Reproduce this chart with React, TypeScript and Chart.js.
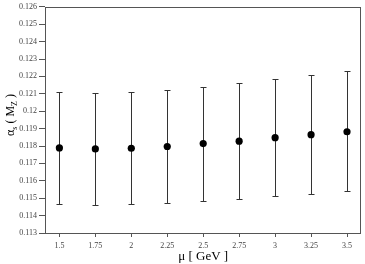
import React, { useEffect, useRef } from "react";
import { Chart, registerables } from "chart.js";
Chart.register(...registerables);

const mu = [1.5, 1.75, 2, 2.25, 2.5, 2.75, 3, 3.25, 3.5];
const alphaS = [0.11789, 0.11783, 0.11787, 0.11797, 0.11814, 0.11828, 0.11848, 0.11865, 0.11882];
const upper = [0.1211, 0.12105, 0.1211, 0.1212, 0.1214, 0.12164, 0.12186, 0.12209, 0.1223];
const lower = [0.11467, 0.11463, 0.11466, 0.11474, 0.11484, 0.11495, 0.1151, 0.11526, 0.11541];
const xTicks = [1.5, 1.75, 2, 2.25, 2.5, 2.75, 3, 3.25, 3.5];
const yTicks = [0.113, 0.114, 0.115, 0.116, 0.117, 0.118, 0.119, 0.12, 0.121, 0.122, 0.123, 0.124, 0.125, 0.126];

const SERIF = "'Liberation Serif', 'Times New Roman', serif";

const errorBars = {
  id: "errorBars",
  beforeDatasetsDraw(chart: any) {
    const { ctx, scales } = chart;
    const xs = scales.x, ys = scales.y;
    ctx.save();
    ctx.strokeStyle = "#333";
    ctx.lineWidth = 1;
    for (let i = 0; i < mu.length; i++) {
      const x = Math.round(xs.getPixelForValue(mu[i])) + 0.5;
      const yt = Math.round(ys.getPixelForValue(upper[i])) + 0.5;
      const yb = Math.round(ys.getPixelForValue(lower[i])) + 0.5;
      ctx.beginPath();
      ctx.moveTo(x, yt); ctx.lineTo(x, yb);
      ctx.moveTo(x - 3, yt); ctx.lineTo(x + 3, yt);
      ctx.moveTo(x - 3, yb); ctx.lineTo(x + 3, yb);
      ctx.stroke();
    }
    ctx.restore();
  },
};

const frame = {
  id: "frame",
  afterDraw(chart: any) {
    const { ctx, chartArea: a } = chart;
    ctx.save();
    ctx.strokeStyle = "#555";
    ctx.lineWidth = 1;
    ctx.strokeRect(Math.round(a.left) + 0.5, Math.round(a.top) + 0.5, Math.round(a.right - a.left) - 1, Math.round(a.bottom - a.top));
    const parts: [string, number, number][] = [
      ["\u03b1", 12, 0], ["s", 8, 3], [" ( M", 12, 0], ["Z", 8, 3], [" )", 12, 0],
    ];
    let total = 0;
    for (const [t, s] of parts) { ctx.font = `${s}px ${SERIF}`; total += ctx.measureText(t).width; }
    ctx.translate(14, 115);
    ctx.rotate(-Math.PI / 2);
    ctx.fillStyle = "#000";
    ctx.textBaseline = "alphabetic";
    let x = -total / 2;
    for (const [t, s, dy] of parts) {
      ctx.font = `${s}px ${SERIF}`;
      ctx.fillText(t, x, dy);
      x += ctx.measureText(t).width;
    }
    ctx.restore();
  },
};

export default function App() {
  const ref = useRef<HTMLCanvasElement>(null);
  useEffect(() => {
    const chart = new Chart(ref.current!, {
      type: "scatter",
      data: {
        datasets: [{
          data: mu.map((m, i) => ({ x: m, y: alphaS[i] })),
          backgroundColor: "#000",
          borderColor: "#000",
          borderWidth: 0,
          pointRadius: 3.6,
          pointHoverRadius: 3.6,
        }],
      },
      options: {
        animation: false,
        responsive: false,
        layout: { padding: { top: 3, right: 2, left: 0, bottom: 0 } },
        plugins: { legend: { display: false }, tooltip: { enabled: false } },
        scales: {
          x: {
            type: "linear", min: 1.4, max: 3.6,
            afterBuildTicks: (s: any) => { s.ticks = xTicks.map((v) => ({ value: v })); },
            afterFit: (s: any) => { s.height = 31; },
            grid: { display: true, drawOnChartArea: false, drawTicks: true, tickLength: 4, color: "#555" },
            border: { display: false },
            ticks: { color: "#444", font: { family: SERIF, size: 8 }, padding: 4, maxRotation: 0, callback: (v: any) => String(v) },
            title: { display: true, text: "\u03bc [ GeV ]", color: "#000", font: { family: SERIF, size: 13 }, padding: { top: 0, bottom: 0 } },
          },
          y: {
            min: 0.113, max: 0.126,
            afterBuildTicks: (s: any) => { s.ticks = yTicks.map((v) => ({ value: v })); },
            afterFit: (s: any) => { s.width = 45; },
            grid: { display: true, drawOnChartArea: false, drawTicks: true, tickLength: 6, color: "#555" },
            border: { display: false },
            ticks: { color: "#444", font: { family: SERIF, size: 8 }, padding: 2, callback: (v: any) => String(Number(Number(v).toFixed(3))) },
          },
        },
      },
      plugins: [errorBars, frame],
    });
    return () => chart.destroy();
  }, []);
  return (
    <div style={{ position: "fixed", left: 0, top: 0, width: 365, height: 264, background: "#fff" }}>
      <canvas ref={ref} width={365} height={264} />
    </div>
  );
}
